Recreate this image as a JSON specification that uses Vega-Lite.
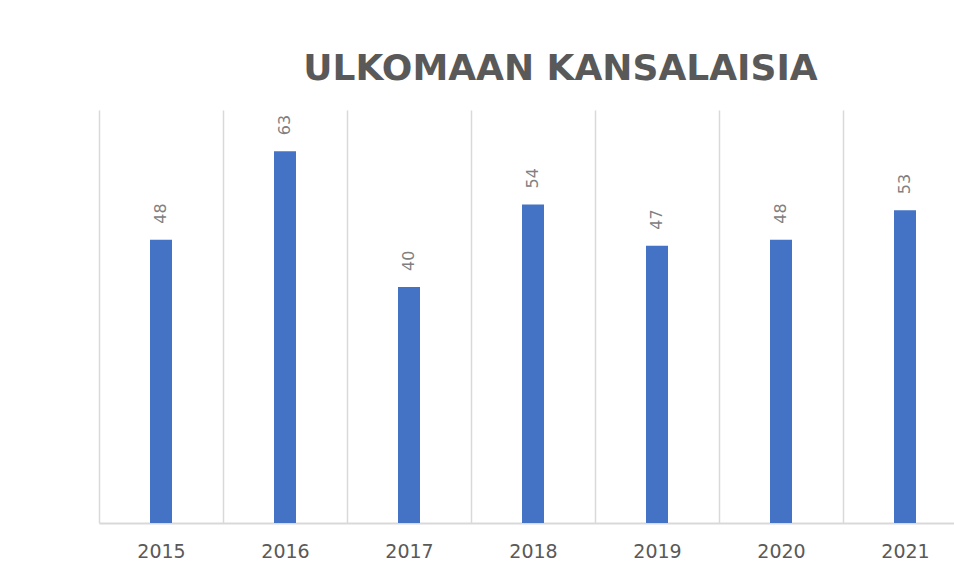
{
  "$schema": "https://vega.github.io/schema/vega-lite/v6.json",
  "autosize": {"type": "none"},
  "width": 855,
  "height": 413,
  "padding": {"left": 99, "top": 110, "right": 0, "bottom": 56},
  "background": "white",
  "title": {
    "text": "ULKOMAAN KANSALAISIA",
    "font": "DejaVu Sans",
    "fontSize": 36,
    "fontWeight": "bold",
    "color": "#595959",
    "anchor": "middle",
    "frame": "group",
    "baseline": "alphabetic",
    "offset": 28,
    "dx": 34,
    "dy": 34
  },
  "data": {
    "values": [
      {"year": "2015", "value": 48},
      {"year": "2016", "value": 63},
      {"year": "2017", "value": 40},
      {"year": "2018", "value": 54},
      {"year": "2019", "value": 47},
      {"year": "2020", "value": 48},
      {"year": "2021", "value": 53}
    ]
  },
  "encoding": {
    "x": {
      "field": "year",
      "type": "ordinal",
      "scale": {"range": [0, 868], "paddingInner": 0, "paddingOuter": 0},
      "axis": {
        "title": null,
        "labelAngle": 0,
        "ticks": false,
        "tickBand": "extent",
        "grid": true,
        "gridColor": "#d9d9d9",
        "gridWidth": 1.5,
        "domainColor": "#d9d9d9",
        "domainWidth": 2,
        "labelFont": "DejaVu Sans",
        "labelFontSize": 19,
        "labelFontWeight": "normal",
        "labelColor": "#595959",
        "labelPadding": 19
      }
    },
    "y": {
      "field": "value",
      "type": "quantitative",
      "scale": {"domain": [0, 70], "nice": false},
      "axis": null
    }
  },
  "layer": [
    {"mark": {"type": "bar", "size": 22, "color": "#4472C4"}},
    {
      "mark": {
        "type": "text",
        "angle": 270,
        "align": "left",
        "baseline": "middle",
        "dx": 16,
        "font": "DejaVu Sans",
        "fontSize": 16,
        "color": "#808080"
      },
      "encoding": {"text": {"field": "value", "type": "quantitative"}}
    }
  ],
  "config": {"view": {"stroke": null}}
}
